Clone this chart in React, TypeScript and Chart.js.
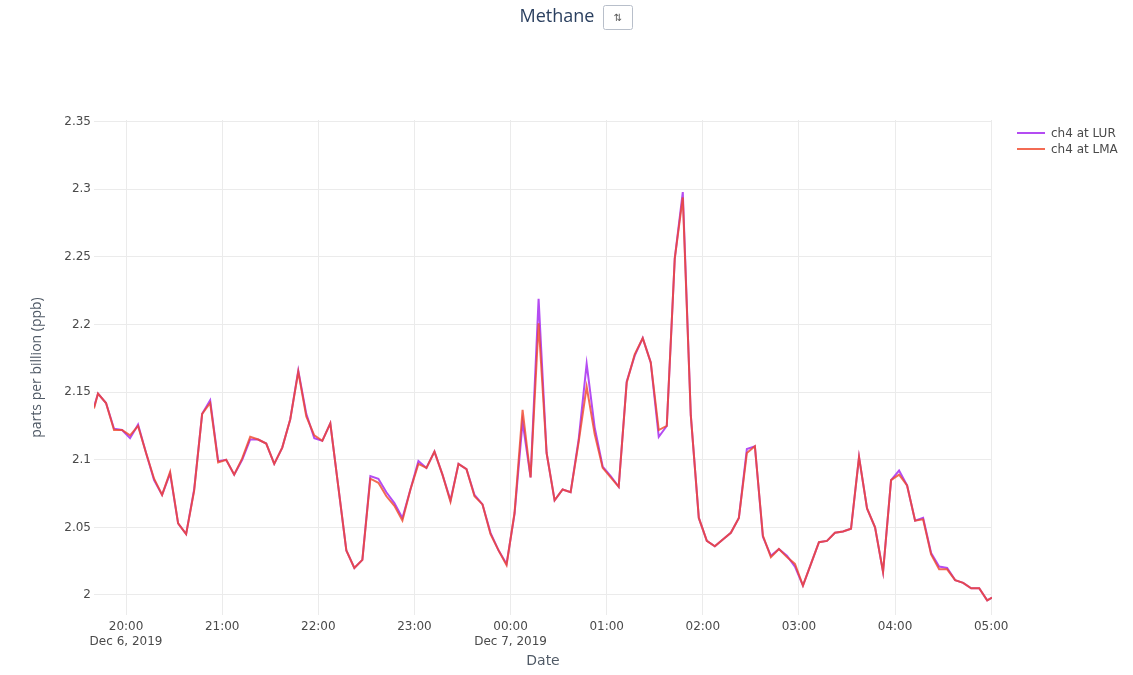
import React, { useEffect, useRef } from "react";
import { Chart, registerables } from "chart.js";

Chart.register(...registerables);

// ---- data ----
const times = [
  "19:40:00", "19:42:30", "19:47:30", "19:52:30", "19:57:30", "20:02:30", "20:07:30", "20:12:30", "20:17:30", "20:22:30",
  "20:27:30", "20:32:30", "20:37:30", "20:42:30", "20:47:30", "20:52:30", "20:57:30", "21:02:30", "21:07:30", "21:12:30",
  "21:17:30", "21:22:30", "21:27:30", "21:32:30", "21:37:30", "21:42:30", "21:47:30", "21:52:30", "21:57:30", "22:02:30",
  "22:07:30", "22:12:30", "22:17:30", "22:22:30", "22:27:30", "22:32:30", "22:37:30", "22:42:30", "22:47:30", "22:52:30",
  "22:57:30", "23:02:30", "23:07:30", "23:12:30", "23:17:30", "23:22:30", "23:27:30", "23:32:30", "23:37:30", "23:42:30",
  "23:47:30", "23:52:30", "23:57:30", "00:02:30", "00:07:30", "00:12:30", "00:17:30", "00:22:30", "00:27:30", "00:32:30",
  "00:37:30", "00:42:30", "00:47:30", "00:52:30", "00:57:30", "01:02:30", "01:07:30", "01:12:30", "01:17:30", "01:22:30",
  "01:27:30", "01:32:30", "01:37:30", "01:42:30", "01:47:30", "01:52:30", "01:57:30", "02:02:30", "02:07:30", "02:12:30",
  "02:17:30", "02:22:30", "02:27:30", "02:32:30", "02:37:30", "02:42:30", "02:47:30", "02:52:30", "02:57:30", "03:02:30",
  "03:07:30", "03:12:30", "03:17:30", "03:22:30", "03:27:30", "03:32:30", "03:37:30", "03:42:30", "03:47:30", "03:52:30",
  "03:57:30", "04:02:30", "04:07:30", "04:12:30", "04:17:30", "04:22:30", "04:27:30", "04:32:30", "04:37:30", "04:42:30",
  "04:47:30", "04:52:30", "04:57:30", "05:00:30",
];

const ch4LUR = [
  2.139, 2.149, 2.142, 2.123, 2.122, 2.116, 2.126, 2.105, 2.085, 2.074,
  2.090, 2.053, 2.045, 2.078, 2.134, 2.144, 2.099, 2.100, 2.089, 2.100,
  2.115, 2.115, 2.112, 2.097, 2.109, 2.130, 2.166, 2.134, 2.116, 2.114,
  2.127, 2.080, 2.033, 2.020, 2.026, 2.088, 2.086, 2.076, 2.068, 2.057,
  2.078, 2.099, 2.094, 2.106, 2.089, 2.070, 2.097, 2.093, 2.074, 2.067,
  2.046, 2.033, 2.023, 2.060, 2.128, 2.087, 2.219, 2.105, 2.070, 2.078,
  2.076, 2.115, 2.171, 2.124, 2.095, 2.088, 2.080, 2.158, 2.177, 2.190,
  2.172, 2.117, 2.125, 2.249, 2.298, 2.133, 2.057, 2.040, 2.036, 2.041,
  2.046, 2.057, 2.108, 2.110, 2.043, 2.029, 2.034, 2.029, 2.021, 2.007,
  2.023, 2.039, 2.040, 2.046, 2.047, 2.049, 2.102, 2.064, 2.050, 2.017,
  2.085, 2.092, 2.081, 2.055, 2.057, 2.031, 2.021, 2.020, 2.011, 2.009,
  2.005, 2.005, 1.996, 1.998,
];

const ch4LMA = [
  2.138, 2.149, 2.142, 2.122, 2.122, 2.118, 2.125, 2.105, 2.086, 2.074,
  2.091, 2.053, 2.045, 2.077, 2.134, 2.142, 2.098, 2.100, 2.089, 2.101,
  2.117, 2.115, 2.112, 2.097, 2.109, 2.130, 2.165, 2.132, 2.118, 2.114,
  2.127, 2.080, 2.033, 2.020, 2.026, 2.086, 2.083, 2.073, 2.066, 2.055,
  2.078, 2.097, 2.094, 2.106, 2.089, 2.069, 2.097, 2.093, 2.073, 2.067,
  2.045, 2.033, 2.022, 2.061, 2.137, 2.087, 2.201, 2.105, 2.070, 2.078,
  2.076, 2.113, 2.154, 2.119, 2.094, 2.087, 2.080, 2.157, 2.178, 2.190,
  2.172, 2.122, 2.125, 2.249, 2.294, 2.133, 2.057, 2.040, 2.036, 2.041,
  2.046, 2.057, 2.105, 2.110, 2.044, 2.028, 2.034, 2.028, 2.023, 2.007,
  2.023, 2.039, 2.040, 2.046, 2.047, 2.049, 2.102, 2.064, 2.050, 2.017,
  2.085, 2.089, 2.081, 2.055, 2.056, 2.030, 2.019, 2.019, 2.011, 2.009,
  2.005, 2.005, 1.996, 1.998,
];

const seriesNames = ["ch4 at LUR", "ch4 at LMA"];
const seriesColors = ["#b44cf2", "rgba(240, 70, 40, 0.8)"];

const xTickLabels = ["20:00", "21:00", "22:00", "23:00", "00:00", "01:00", "02:00", "03:00", "04:00", "05:00"];
const xTickDates = ["Dec 6, 2019", "", "", "", "Dec 7, 2019", "", "", "", "", ""];
const yTickValues = [2, 2.05, 2.1, 2.15, 2.2, 2.25, 2.3, 2.35];

const chartTitle = "Methane";
const xTitle = "Date";
const yTitle = "parts per billion (ppb)";

// minutes relative to 20:00 on Dec 6
function toMinutes(s: string): number {
  const parts = s.split(":").map(Number);
  let v = parts[0] * 60 + parts[1] + (parts[2] || 0) / 60;
  if (parts[0] < 12) v += 1440;
  return v - 1200;
}

const FONT = '"DejaVu Sans", Verdana, sans-serif';

const decorPlugin = {
  id: "decor",
  afterDraw(chart: any) {
    const ctx = chart.ctx;
    ctx.save();
    // title
    ctx.font = '18px "Open Sans", Arial, sans-serif';
    ctx.fillStyle = "#2a3f5f";
    ctx.textAlign = "center";
    ctx.textBaseline = "middle";
    ctx.fillText(chartTitle, 557, 17);
    // update-menu button
    ctx.fillStyle = "#ffffff";
    ctx.strokeStyle = "#b8bfca";
    ctx.lineWidth = 1;
    ctx.beginPath();
    if (ctx.roundRect) ctx.roundRect(603.5, 5.5, 29, 24, 2);
    else ctx.rect(603.5, 5.5, 29, 24);
    ctx.fill();
    ctx.stroke();
    ctx.fillStyle = "#555";
    ctx.font = '10px "DejaVu Sans", sans-serif';
    ctx.fillText("\u21C5", 618, 18);
    // legend
    ctx.textAlign = "left";
    ctx.font = "12px " + FONT;
    seriesNames.forEach((name, i) => {
      const y = 133 + i * 16;
      ctx.strokeStyle = seriesColors[i];
      ctx.lineWidth = 2;
      ctx.beginPath();
      ctx.moveTo(1017, y);
      ctx.lineTo(1045, y);
      ctx.stroke();
      ctx.fillStyle = "#4a4a4a";
      ctx.fillText(name, 1051, y + 1);
    });
    ctx.restore();
  },
};

export default function App() {
  const ref = useRef<HTMLCanvasElement | null>(null);

  useEffect(() => {
    if (!ref.current) return;
    const xs = times.map(toMinutes);
    const chart = new Chart(ref.current, {
      type: "line",
      data: {
        datasets: [
          {
            label: seriesNames[0],
            data: xs.map((x, i) => ({ x, y: ch4LUR[i] })),
            borderColor: seriesColors[0],
            backgroundColor: seriesColors[0],
            borderWidth: 2,
            pointRadius: 0,
            tension: 0,
            order: 2,
          },
          {
            label: seriesNames[1],
            data: xs.map((x, i) => ({ x, y: ch4LMA[i] })),
            borderColor: seriesColors[1],
            backgroundColor: seriesColors[1],
            borderWidth: 2,
            pointRadius: 0,
            tension: 0,
            order: 1,
          },
        ],
      },
      options: {
        responsive: false,
        animation: false,
        layout: { padding: { top: 120, right: 141, left: 0, bottom: 0 } },
        plugins: {
          legend: { display: false },
          tooltip: { enabled: false },
          title: { display: false },
        },
        scales: {
          x: {
            type: "linear",
            min: xs[0],
            max: xs[xs.length - 1],
            bounds: "data",
            afterBuildTicks: (s: any) => {
              s.ticks = xTickLabels.map((l) => ({ value: toMinutes(l) }));
            },
            afterFit: (s: any) => {
              s.height = 60;
            },
            grid: { color: "#ebebeb", lineWidth: 1, drawTicks: false },
            border: { display: false },
            ticks: {
              padding: 5,
              autoSkip: false,
              maxRotation: 0,
              color: "#4a4a4a",
              font: { family: FONT, size: 12 },
              callback: (v: any) => {
                const idx = xTickLabels.findIndex((l) => Math.abs(toMinutes(l) - Number(v)) < 0.01);
                if (idx < 0) return "";
                return xTickDates[idx] ? [xTickLabels[idx], xTickDates[idx]] : xTickLabels[idx];
              },
            },
            title: {
              display: true,
              text: xTitle,
              color: "#505a66",
              font: { family: FONT, size: 14 },
              padding: { top: 0, bottom: 5 },
            },
          },
          y: {
            type: "linear",
            min: 1.9852,
            max: 2.3513,
            afterBuildTicks: (s: any) => {
              s.ticks = yTickValues.map((v) => ({ value: v }));
            },
            afterFit: (s: any) => {
              s.width = 94;
            },
            grid: { color: "#ebebeb", lineWidth: 1, drawTicks: false },
            border: { display: false },
            ticks: {
              padding: 3,
              color: "#4a4a4a",
              font: { family: FONT, size: 12 },
              callback: (v: any) => String(Math.round(Number(v) * 100) / 100),
            },
            title: {
              display: true,
              text: yTitle,
              color: "#505a66",
              font: { family: '"Open Sans", Arial, sans-serif', size: 14 },
              padding: { top: 29, bottom: 0 },
            },
          },
        },
      },
      plugins: [decorPlugin],
    });
    return () => chart.destroy();
  }, []);

  return (
    <div style={{ position: "absolute", left: 0, top: 0, width: 1133, height: 675, background: "#fff" }}>
      <canvas ref={ref} width={1133} height={675} style={{ display: "block" }} />
    </div>
  );
}
